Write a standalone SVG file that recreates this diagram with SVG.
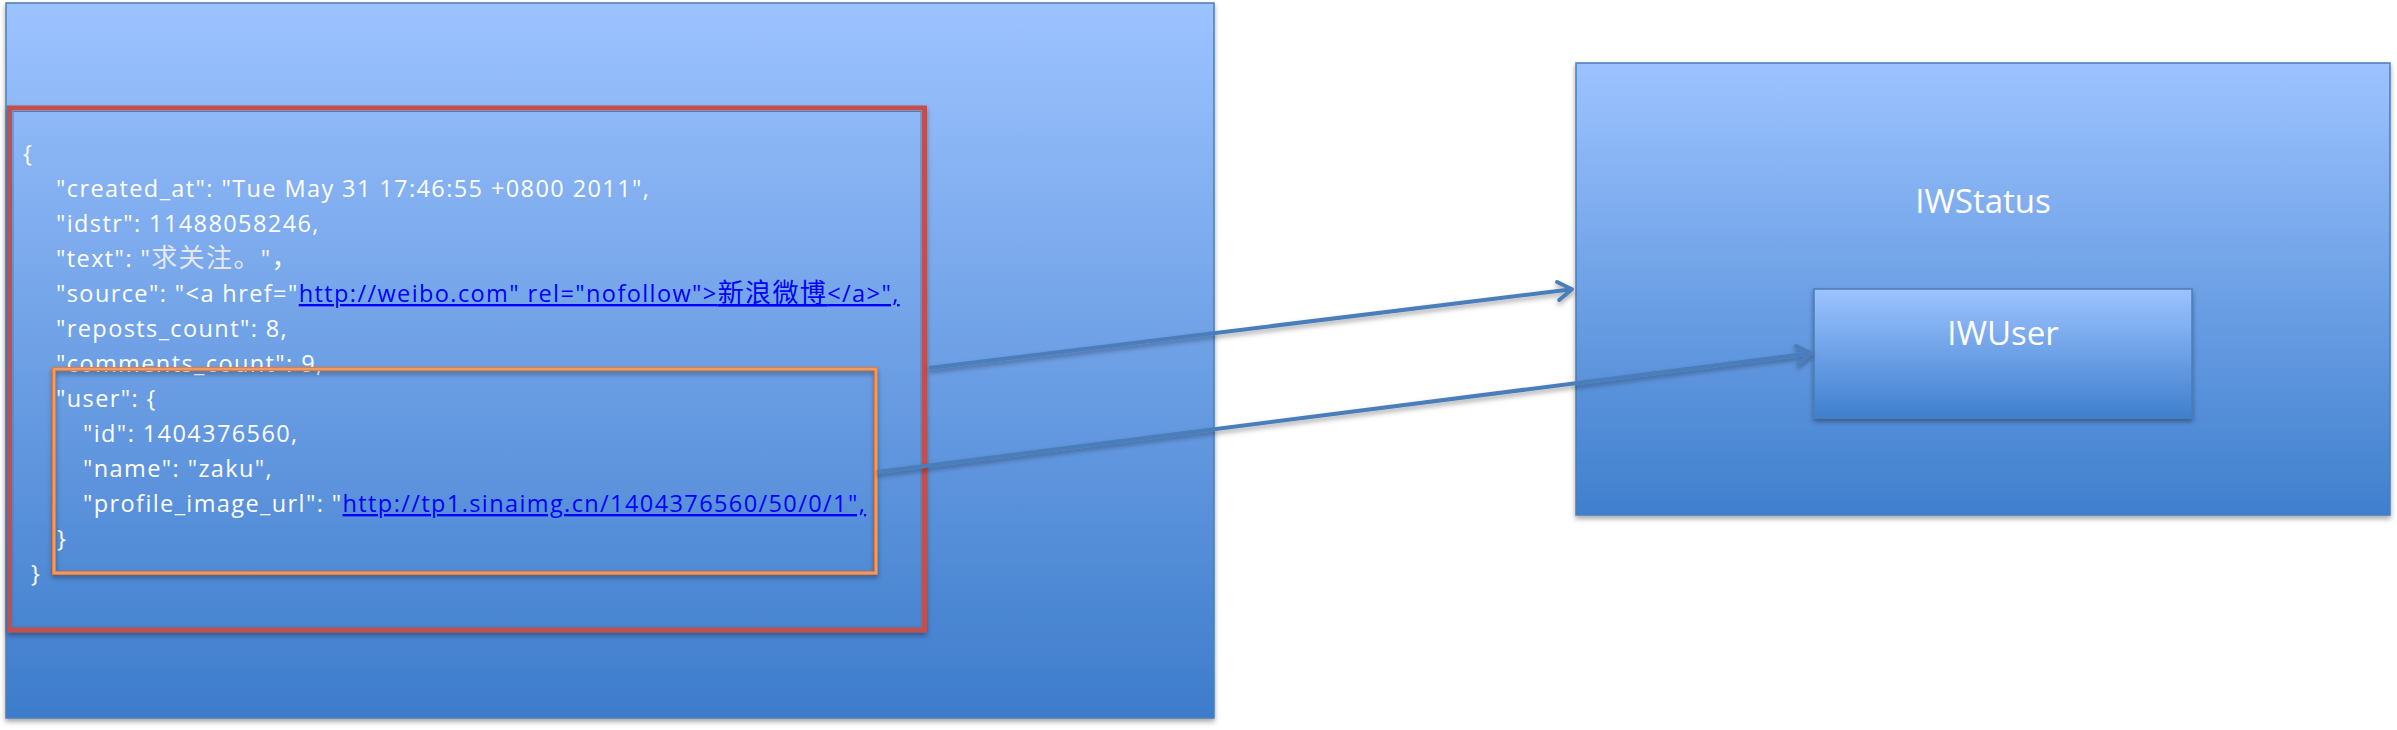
<svg xmlns="http://www.w3.org/2000/svg" width="2397" height="730" viewBox="0 0 2397 730">
<style>
.box{stroke:#4A7EBB;stroke-width:1.5}
.json{font-family:"Open Sans","Noto Sans CJK SC",sans-serif;font-size:23.5px;letter-spacing:1.4px;fill:#FFFFFF}
.cjk{font-family:"Noto Sans CJK SC",sans-serif;font-size:26px}
.link{fill:#0000FF;text-decoration:underline}
.label{font-family:"Open Sans",sans-serif;font-size:33px;fill:#FFFFFF;text-anchor:middle}
.conn{stroke:#4A7EBB;stroke-width:4;fill:none}
</style>
<defs>
<linearGradient id="gBig" gradientUnits="userSpaceOnUse" x1="0" y1="3" x2="0" y2="718">
<stop offset="0" stop-color="#9DC3FF"/>
<stop offset="1" stop-color="#3D7CCB"/>
</linearGradient>
<linearGradient id="gBox" x1="0" y1="0" x2="0" y2="1">
<stop offset="0" stop-color="#9DC3FF"/>
<stop offset="1" stop-color="#3F7FCD"/>
</linearGradient>
<filter id="sh" x="-5%" y="-5%" width="110%" height="115%">
<feDropShadow dx="0" dy="3" stdDeviation="2.5" flood-color="#000" flood-opacity="0.35"/>
</filter>
<marker id="arr" markerUnits="userSpaceOnUse" markerWidth="30" markerHeight="30" viewBox="-20 -15 30 30" refX="0" refY="0" orient="auto">
<path d="M-14,-9 L0,0 L-14,9" fill="none" stroke="#4A7EBB" stroke-width="4" stroke-linecap="round" stroke-linejoin="round"/>
</marker>
</defs>
<g id="json-panel">
<rect x="6" y="3" width="1208" height="715" fill="url(#gBig)" class="box" filter="url(#sh)"/>
</g>
<g id="status-json">
<rect x="9.5" y="108" width="915" height="522" fill="url(#gBig)" stroke="#C0504D" stroke-width="5" filter="url(#sh)"/>
<rect x="13" y="111.5" width="908" height="515" fill="none" stroke="#4A7EBB" stroke-width="1"/>
<text class="json" x="23" y="162">{</text>
<text class="json" x="56" y="197">"created_at": "Tue May 31 17:46:55 +0800 2011",</text>
<text class="json" x="56" y="232">"idstr": 11488058246,</text>
<text class="json" x="56" y="267">"text": "<tspan class="cjk" fill="#E4E8EE">求关注。</tspan>"<tspan class="cjk">，</tspan></text>
<text class="json" x="56" y="302">"source": "&lt;a href="<tspan class="link">http://weibo.com" rel="nofollow"&gt;<tspan class="cjk">新浪微博</tspan>&lt;/a&gt;",</tspan></text>
<text class="json" x="56" y="337">"reposts_count": 8,</text>
<text class="json" x="56" y="372">"comments_count": 9,</text>
<text class="json" x="56" y="407">"user": {</text>
<text class="json" x="83" y="442">"id": 1404376560,</text>
<text class="json" x="83" y="477">"name": "zaku",</text>
<text class="json" x="83" y="512">"profile_image_url": "<tspan class="link">http://tp1.sinaimg.cn/1404376560/50/0/1",</tspan></text>
<text class="json" x="57" y="547">}</text>
<text class="json" x="31" y="582">}</text>
</g>
<g id="user-json">
<rect x="54" y="369" width="822" height="204" fill="none" stroke="#EC7A35" stroke-width="4" filter="url(#sh)"/>
<rect x="54" y="369" width="822" height="204" fill="none" stroke="#F9B98A" stroke-width="1"/>
</g>
<g id="IWStatus">
<rect x="1576" y="63" width="814" height="452" fill="url(#gBox)" class="box" filter="url(#sh)"/>
<text class="label" x="1983" y="213">IWStatus</text>
</g>
<g id="IWUser">
<rect x="1814" y="289" width="378" height="129" fill="url(#gBox)" class="box" filter="url(#sh)"/>
<text class="label" x="2003" y="345">IWUser</text>
</g>
<g id="connectors" filter="url(#sh)">
<line class="conn" x1="929" y1="368" x2="1572" y2="289.3" marker-end="url(#arr)"/>
<line class="conn" x1="877" y1="472" x2="1811" y2="353.3" marker-end="url(#arr)"/>
</g>
</svg>
